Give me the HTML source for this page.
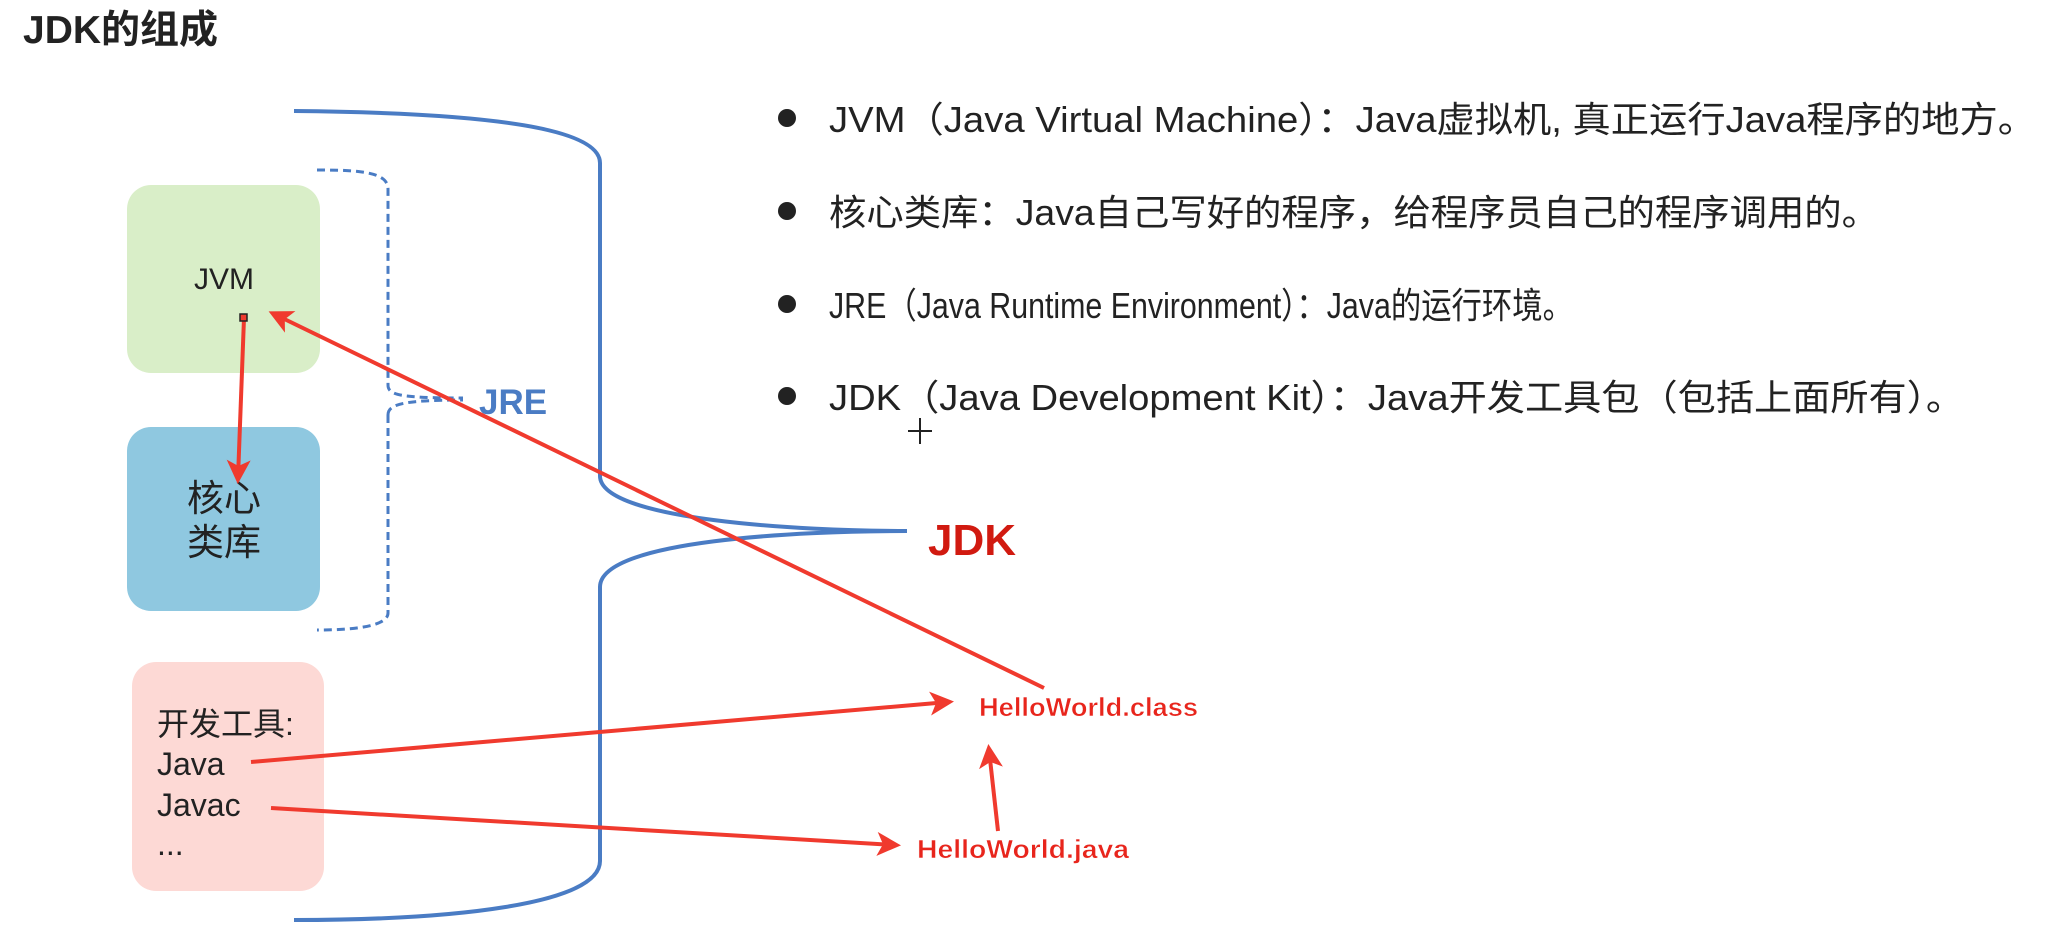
<!DOCTYPE html>
<html><head><meta charset="utf-8"><style>
html,body{margin:0;padding:0;background:#fff;}
svg{display:block;}
text{font-family:"Liberation Sans","Noto Sans CJK SC",sans-serif;}
</style></head><body>
<svg width="2047" height="950" viewBox="0 0 2047 950" xmlns="http://www.w3.org/2000/svg">
<defs>
<marker id="ah" markerWidth="6" markerHeight="6" refX="4.5" refY="3" orient="auto" markerUnits="strokeWidth">
<path d="M0,0 L6,3 L0,6 L1.5,3 Z" fill="#f03a2e"/>
</marker>
</defs>
<text x="23" y="43" font-size="39" font-weight="bold" fill="#222">JDK的组成</text>

<!-- boxes -->
<rect x="127" y="185" width="193" height="188" rx="24" fill="#d9eec8"/>
<rect x="127" y="427" width="193" height="184" rx="24" fill="#8fc8e0"/>
<rect x="132" y="662" width="192" height="229" rx="24" fill="#fdd9d5"/>
<text x="224" y="289" font-size="30" text-anchor="middle" font-family="Liberation Mono, monospace" fill="#222">JVM</text>
<text x="224" y="511" font-size="37" text-anchor="middle" fill="#222">核心</text>
<text x="224" y="555" font-size="37" text-anchor="middle" fill="#222">类库</text>
<text x="157" y="735" font-size="32" fill="#222">开发工具:</text>
<text x="157" y="775" font-size="32" fill="#222">Java</text>
<text x="157" y="816" font-size="32" fill="#222">Javac</text>
<text x="157" y="855" font-size="32" fill="#222">...</text>

<!-- big JDK bracket -->
<path d="M294,111 C500,113 600,130 600,163 L600,476 C600,520 800,531 907,531 C800,531 600,540 600,587 L600,861 C600,905 450,920 294,920" fill="none" stroke="#4a7cc4" stroke-width="4"/>
<!-- dashed JRE bracket -->
<path d="M317,170 C360,170 388,172 388,189 L388,385 C388,395 400,398 463,398 M388,415 C388,405 400,400 463,400 M388,415 L388,613 C388,625 360,630 317,630" fill="none" stroke="#4a7cc4" stroke-width="3" stroke-dasharray="8,5"/>
<text x="479" y="414" font-size="35" font-weight="bold" fill="#4a7cc4">JRE</text>
<text x="928" y="555" font-size="44" font-weight="bold" fill="#d11a10">JDK</text>

<!-- red labels -->
<g font-weight="bold" font-size="26" fill="#e8251c" stroke="#fff" stroke-width="0.5">
<text x="979" y="716" textLength="219" lengthAdjust="spacingAndGlyphs">HelloWorld.class</text>
<text x="917" y="858" textLength="212" lengthAdjust="spacingAndGlyphs">HelloWorld.java</text>
</g>

<!-- arrows -->
<g stroke="#f03a2e" stroke-width="4" fill="none">
<line x1="1044" y1="688" x2="274" y2="314" marker-end="url(#ah)"/>
<line x1="244" y1="318" x2="238" y2="478" marker-end="url(#ah)"/>
<line x1="251" y1="762" x2="948" y2="702" marker-end="url(#ah)"/>
<line x1="271" y1="808" x2="895" y2="845" marker-end="url(#ah)"/>
<line x1="998" y1="831" x2="989" y2="750" marker-end="url(#ah)"/>
</g>
<rect x="240" y="314" width="7" height="7" fill="#f03a2e" stroke="#222" stroke-width="1.5"/>

<!-- bullets -->
<g fill="#222">
<circle cx="787" cy="118" r="9"/>
<circle cx="787" cy="211" r="9"/>
<circle cx="787" cy="304" r="9"/>
<circle cx="787" cy="396" r="9"/>
</g>
<g font-size="36" fill="#222">
<text x="829" y="132" textLength="1207" lengthAdjust="spacingAndGlyphs">JVM（Java Virtual Machine）：Java虚拟机, 真正运行Java程序的地方。</text>
<text x="829" y="225" textLength="1050" lengthAdjust="spacingAndGlyphs">核心类库：Java自己写好的程序，给程序员自己的程序调用的。</text>
<text x="829" y="318" textLength="744" lengthAdjust="spacingAndGlyphs">JRE（Java Runtime Environment）：Java的运行环境。</text>
<text x="829" y="410" textLength="1135" lengthAdjust="spacingAndGlyphs">JDK（Java Development Kit）：Java开发工具包（包括上面所有）。</text>
</g>
<!-- cursor -->
<path d="M920,418 V444 M908,431 H932" stroke="#222" stroke-width="2"/>
</svg>
</body></html>
